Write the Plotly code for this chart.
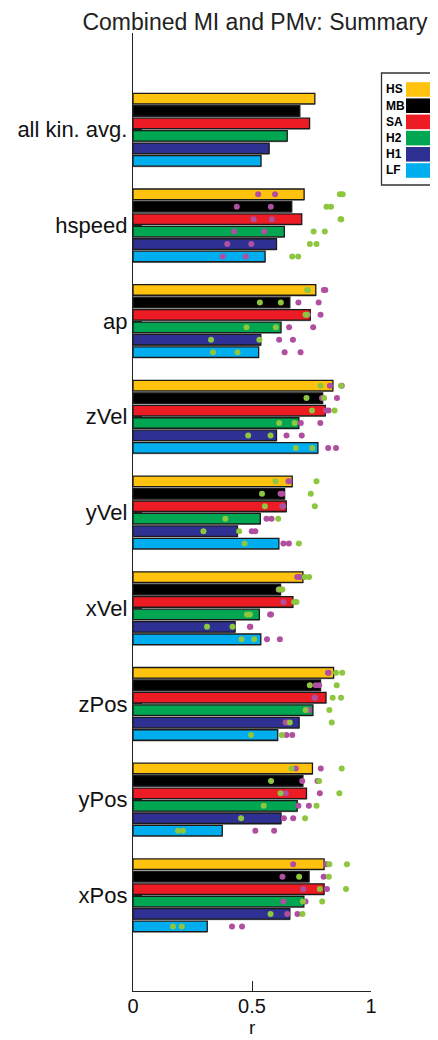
import plotly.graph_objects as go

categories = ["all kin. avg.", "hspeed", "ap", "zVel", "yVel", "xVel", "zPos", "yPos", "xPos"]
series = ["HS", "MB", "SA", "H2", "H1", "LF"]
colors = ["#FFC20E", "#000000", "#ED1C24", "#00A651", "#2E3192", "#00AEEF"]

# bar values (r), one per category
HS = [0.764, 0.719, 0.768, 0.840, 0.669, 0.714, 0.843, 0.754, 0.803]
MB = [0.701, 0.667, 0.659, 0.797, 0.637, 0.620, 0.788, 0.714, 0.740]
SA = [0.742, 0.709, 0.745, 0.808, 0.644, 0.672, 0.811, 0.729, 0.803]
H2 = [0.648, 0.636, 0.622, 0.697, 0.535, 0.531, 0.756, 0.690, 0.718]
H1 = [0.572, 0.603, 0.537, 0.603, 0.439, 0.429, 0.698, 0.622, 0.659]
LF = [0.538, 0.555, 0.528, 0.777, 0.613, 0.537, 0.608, 0.375, 0.312]

# individual points for categories hspeed..xPos (magenta set)
HS_m = [(0.526, 0.597), (0.802, 0.808), (0.827, 0.877), (0.653, 0.656), (0.690, 0.701), (0.819, 0.822), (0.684, 0.789), (0.673, 0.812)]
MB_m = [(0.436, 0.579), (0.695, 0.780), (0.794, 0.857), (0.620, 0.627), (0.612, 0.623), (0.768, 0.782), (0.711, 0.775), (0.628, 0.801)]
SA_m = [(0.507, 0.583), (0.735, 0.788), (0.811, 0.822), (0.627, 0.631), (0.632, 0.683), (0.763, 0.765), (0.642, 0.785), (0.715, 0.815)]
H2_m = [(0.425, 0.552), (0.656, 0.757), (0.705, 0.787), (0.561, 0.582), (0.576, 0.580), (0.733, 0.739), (0.695, 0.739), (0.632, 0.725)]
H1_m = [(0.396, 0.497), (0.614, 0.672), (0.645, 0.709), (0.499, 0.514), (0.491, 0.493), (0.641, 0.648), (0.634, 0.673), (0.648, 0.691)]
LF_m = [(0.377, 0.474), (0.637, 0.704), (0.820, 0.853), (0.632, 0.655), (0.563, 0.617), (0.645, 0.669), (0.514, 0.593), (0.416, 0.458)]

# individual points (green set)
HS_g = [(0.869, 0.881), (0.732, 0.735), (0.788, 0.874), (0.599, 0.771), (0.722, 0.740), (0.853, 0.879), (0.666, 0.877), (0.825, 0.899)]
MB_g = [(0.813, 0.832), (0.533, 0.621), (0.729, 0.803), (0.542, 0.747), (0.614, 0.628), (0.743, 0.856), (0.580, 0.782), (0.698, 0.823)]
SA_g = [(0.872, 0.875), (0.725, 0.730), (0.752, 0.847), (0.554, 0.764), (0.677, 0.687), (0.839, 0.874), (0.620, 0.867), (0.785, 0.895)]
H2_g = [(0.759, 0.806), (0.477, 0.600), (0.614, 0.679), (0.388, 0.610), (0.479, 0.491), (0.725, 0.825), (0.549, 0.771), (0.714, 0.795)]
H1_g = [(0.743, 0.771), (0.328, 0.531), (0.484, 0.578), (0.296, 0.446), (0.311, 0.418), (0.659, 0.835), (0.454, 0.723), (0.578, 0.712)]
LF_g = [(0.669, 0.694), (0.336, 0.439), (0.684, 0.753), (0.469, 0.697), (0.456, 0.509), (0.496, 0.625), (0.189, 0.210), (0.168, 0.205)]

x_ticks = [0, 0.5, 1]
x_ticklabels = ["0", "0.5", "1"]
x_title = "r"

bar_values = [HS, MB, SA, H2, H1, LF]
magenta_sets = [HS_m, MB_m, SA_m, H2_m, H1_m, LF_m]
green_sets = [HS_g, MB_g, SA_g, H2_g, H1_g, LF_g]

FONT = "Liberation Sans, Arial, Helvetica, sans-serif"
PITCH = 0.13
BAR_W = 0.11
n_ser = len(series)

fig = go.Figure()


def ypos(i, j):
    return i + (j - (n_ser - 1) / 2) * PITCH


# shadows
for j, vals in enumerate(bar_values):
    fig.add_trace(go.Bar(
        x=vals, y=[ypos(i, j) + 0.012 for i in range(len(categories))],
        orientation="h", width=BAR_W, marker=dict(color="#9a9a9a", line=dict(width=0)),
        showlegend=False, hoverinfo="skip"))

for j, (name, vals) in enumerate(zip(series, bar_values)):
    fig.add_trace(go.Bar(
        x=vals, y=[ypos(i, j) for i in range(len(categories))],
        orientation="h", width=BAR_W, name=name,
        marker=dict(color=colors[j], line=dict(color="#1a1a1a", width=1.3)),
        showlegend=False))

for pts_sets, col in ((magenta_sets, "#B04FA0"), (green_sets, "#8DC63F")):
    for j, pts in enumerate(pts_sets):
        xs, ys = [], []
        for k, pair in enumerate(pts):
            for v in pair:
                xs.append(v)
                ys.append(ypos(k + 1, j))
        fig.add_trace(go.Scatter(
            x=xs, y=ys, mode="markers",
            marker=dict(color=col, size=6, line=dict(width=0)),
            showlegend=False, hoverinfo="skip"))

# page body has an 8px margin; figure is sized so it fits the 438x1040 window
OFF = 8
W, H = 438 - OFF, 1040 - OFF
L, R, T, B = 133 - OFF, 67, 33 - OFF, 49
pw, ph = W - L - R, H - T - B


def px2x(px):
    return (px - OFF - L) / pw


def py2y(py):
    return (H - B - (py - OFF)) / ph


shapes = []
annotations = []
shapes.append(dict(type="rect", xref="paper", yref="paper",
                   x0=px2x(381.5), x1=px2x(437.3), y0=py2y(185), y1=py2y(73),
                   line=dict(color="#333333", width=1.3), fillcolor="white", layer="above"))
for j, name in enumerate(series):
    cy = 89.5 + j * 16.2
    shapes.append(dict(type="rect", xref="paper", yref="paper",
                       x0=px2x(406), x1=px2x(433), y0=py2y(cy + 7.3), y1=py2y(cy - 7.3),
                       line=dict(width=0), fillcolor=colors[j], layer="above"))
    annotations.append(dict(xref="paper", yref="paper", x=px2x(384), y=py2y(cy),
                            xanchor="left", yanchor="middle", text="<b>%s</b>" % name,
                            showarrow=False, font=dict(family=FONT, size=12, color="black")))

# x-axis title, placed low like the reference
annotations.append(dict(xref="paper", yref="paper", x=0.5, y=py2y(1040),
                        xanchor="center", yanchor="bottom", text=x_title, showarrow=False,
                        font=dict(family=FONT, size=19, color="#111")))

fig.update_layout(
    width=W, height=H,
    margin=dict(l=L, r=R, t=T, b=B, autoexpand=False),
    plot_bgcolor="white", paper_bgcolor="white",
    barmode="overlay",
    title=dict(text="Combined MI and PMv: Summary", x=(255 - OFF) / W, xanchor="center",
               y=1 - (22 - OFF) / H, yanchor="middle", yref="container",
               font=dict(family=FONT, size=23, color="#222222")),
    xaxis=dict(range=[0, 1], tickvals=x_ticks, ticktext=x_ticklabels, ticks="inside", ticklen=10,
               tickwidth=1, tickcolor="#222", showline=True, linecolor="#222", linewidth=1.3,
               showgrid=False, zeroline=False, ticklabelstandoff=-3,
               tickfont=dict(family=FONT, size=20, color="#111")),
    yaxis=dict(range=[9.0, -1.01], tickvals=list(range(len(categories))), ticktext=categories,
               ticks="inside", ticklen=9, tickwidth=1, tickcolor="#222", showline=True,
               linecolor="#222", linewidth=1.3, showgrid=False, zeroline=False,
               tickfont=dict(family=FONT, size=22, color="#111")),
    shapes=shapes, annotations=annotations,
    showlegend=False,
)

fig.write_html("out.html")
